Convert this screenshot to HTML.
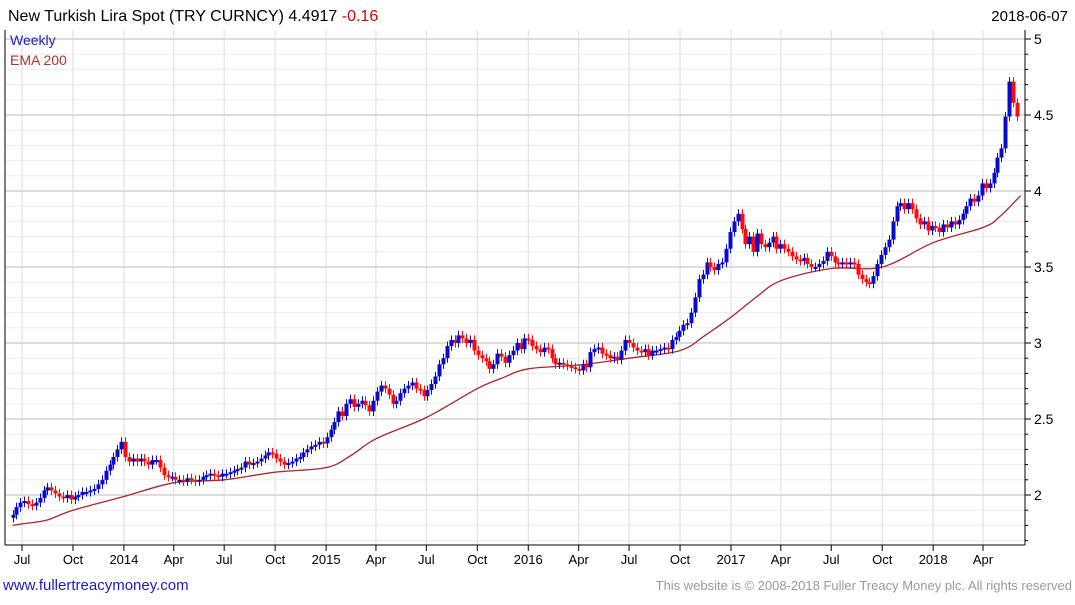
<!DOCTYPE html>
<html><head><meta charset="utf-8"><style>
body{margin:0;background:#fff;width:1075px;height:600px;overflow:hidden;font-family:"Liberation Sans",sans-serif}
svg text{font-family:"Liberation Sans",sans-serif}
</style></head><body>
<svg id="c" width="1075" height="600" xmlns="http://www.w3.org/2000/svg">
<text x="8" y="21" font-size="16" fill="#000">New Turkish Lira Spot (TRY CURNCY) 4.4917 <tspan fill="#e00000">-0.16</tspan></text>
<text x="1068" y="21" font-size="15" fill="#000" text-anchor="end">2018-06-07</text>
<g id="grid"></g>
<g id="ema"></g>
<g id="candles"></g>
<g id="axes"></g>
<text x="10" y="45" font-size="14" fill="#1a1acc">Weekly</text>
<text x="10" y="65" font-size="14" fill="#b03030">EMA 200</text>
<text x="3" y="590" font-size="15" fill="#1a1acc">www.fullertreacymoney.com</text>
<text x="1072" y="590" font-size="13" fill="#999" text-anchor="end">This website is © 2008-2018 Fuller Treacy Money plc. All rights reserved</text>
</svg>
<script>
const startDate = "2013-06-14";
const closes = [1.87,1.92,
1.95,1.96,1.94,1.93,1.95,1.98,2.03,2.05,2.03,2.01,1.99,1.98,2.00,
1.97,1.99,2.00,2.02,2.02,2.03,2.04,2.07,2.10,2.16,2.20,2.25,2.30,
2.35,2.25,2.22,2.24,2.22,2.24,2.22,2.20,2.23,2.23,2.18,2.13,2.12,
2.12,2.10,2.10,2.09,2.11,2.10,2.09,2.10,2.12,2.13,2.14,2.13,2.12,
2.14,2.14,2.15,2.16,2.17,2.18,2.22,2.20,2.21,2.22,2.24,2.26,2.28,
2.27,2.24,2.22,2.20,2.21,2.22,2.24,2.25,2.28,2.30,2.32,2.33,2.35,
2.34,2.38,2.43,2.48,2.55,2.52,2.60,2.63,2.58,2.60,2.62,2.59,2.55,
2.62,2.68,2.72,2.70,2.66,2.60,2.62,2.67,2.70,2.72,2.74,2.70,2.69,
2.65,2.69,2.73,2.78,2.86,2.90,2.98,3.02,3.00,3.05,3.03,3.00,3.02,
2.95,2.92,2.90,2.88,2.83,2.86,2.93,2.91,2.87,2.92,2.95,3.00,2.96,
3.03,3.02,2.98,2.96,2.94,2.97,2.96,2.90,2.86,2.87,2.86,2.85,2.84,
2.83,2.82,2.86,2.84,2.94,2.96,2.97,2.93,2.92,2.90,2.91,2.89,2.95,
3.02,3.00,2.97,2.95,2.94,2.96,2.92,2.95,2.95,2.96,2.97,2.96,3.02,
3.04,3.08,3.12,3.13,3.20,3.30,3.42,3.45,3.53,3.50,3.48,3.52,3.53,
3.62,3.73,3.80,3.85,3.75,3.65,3.70,3.60,3.72,3.65,3.63,3.66,3.70,
3.62,3.65,3.62,3.60,3.57,3.55,3.54,3.56,3.52,3.50,3.50,3.52,3.54,
3.60,3.57,3.53,3.52,3.53,3.52,3.53,3.52,3.45,3.42,3.40,3.39,3.44,
3.52,3.58,3.63,3.68,3.80,3.90,3.92,3.88,3.92,3.88,3.82,3.78,3.80,
3.74,3.77,3.76,3.73,3.78,3.76,3.80,3.78,3.81,3.85,3.90,3.95,3.93,
3.97,4.05,4.02,4.05,4.12,4.22,4.28,4.49,4.72,4.58,4.49];
const firstOpen = 1.85;
const emaDates = ["2013-06-14","2013-07-01","2013-08-15","2013-10-01","2014-01-01","2014-04-01","2014-07-01","2014-10-01","2015-01-01","2015-02-15","2015-04-01","2015-07-01","2015-10-01","2015-11-15","2016-01-01","2016-04-01","2016-07-01","2016-10-01","2016-11-15","2017-01-01","2017-02-15","2017-04-01","2017-07-01","2017-10-01","2018-01-01","2018-04-01","2018-05-01","2018-06-08"];
const emaValues = [1.80,1.81,1.835,1.90,1.99,2.08,2.10,2.15,2.18,2.26,2.37,2.51,2.70,2.77,2.83,2.855,2.90,2.95,3.05,3.17,3.30,3.41,3.49,3.50,3.66,3.76,3.83,3.97];
const tickLabels = ["Jul","Oct","2014","Apr","Jul","Oct","2015","Apr","Jul","Oct","2016","Apr","Jul","Oct","2017","Apr","Jul","Oct","2018","Apr"];
const tickDates = ["2013-07-01","2013-10-01","2014-01-01","2014-04-01","2014-07-01","2014-10-01","2015-01-01","2015-04-01","2015-07-01","2015-10-01","2016-01-01","2016-04-01","2016-07-01","2016-10-01","2017-01-01","2017-04-01","2017-07-01","2017-10-01","2018-01-01","2018-04-01"];
const yTicks = [2,2.5,3,3.5,4,4.5,5];
const yTickLabels = ["2","2.5","3","3.5","4","4.5","5"];

const NS="http://www.w3.org/2000/svg";
const L=5,R=1025,T=30,B=545;
const d0=Date.parse("2013-07-01");
function xD(s){return 22+(Date.parse(s)-d0)/864e5*0.5539;}
function xI(i){return 22+((Date.parse(startDate)-d0)/864e5+7*i)*0.5539;}
function y(v){return 495-(v-2)*152;}
function mk(tag,attrs,parent){const e=document.createElementNS(NS,tag);for(const k in attrs)e.setAttribute(k,attrs[k]);parent.appendChild(e);return e;}
const grid=document.getElementById('grid'),axes=document.getElementById('axes'),cg=document.getElementById('candles'),eg=document.getElementById('ema');
for(let k=17;k<=50;k++){const v=k/10;const yy=y(v);if(yy<T||yy>B)continue;
 const major=(k%5===0);
 const ln=mk('line',{x1:L,x2:R,y1:yy,y2:yy,stroke:major?'#bbbbbb':'#ececec','stroke-width':1},grid);
 
 
 const tk=mk('line',{x1:R,x2:R+(major?6:3),y1:yy,y2:yy,stroke:'#000'},axes);
 
 
}
tickDates.forEach((d,i)=>{const xx=xD(d);
 const ln=mk('line',{x1:xx,x2:xx,y1:T,y2:B,stroke:'#dddddd'},grid);
 
 
 const tk=mk('line',{x1:xx,x2:xx,y1:B,y2:B+6,stroke:'#000'},axes);
 
 
 const t=mk('text',{x:xx,y:B+19,'font-size':13,'text-anchor':'middle',fill:'#000'},axes);
 t.textContent=tickLabels[i];
 
 
});
yTicks.forEach((v,i)=>{const t=mk('text',{x:R+9,y:y(v)+5,'font-size':14,fill:'#000'},axes);
 t.textContent=yTickLabels[i];
 
 
});
const ax1=mk('line',{x1:R,x2:R,y1:T,y2:B,stroke:'#000'},axes);


const ax2=mk('line',{x1:L,x2:R,y1:B,y2:B,stroke:'#000'},axes);


const ax3=mk('line',{x1:L,x2:L,y1:T,y2:B,stroke:'#000'},axes);


// EMA smooth (Catmull-Rom)
const P=emaDates.map((d,i)=>[xD(d),y(emaValues[i])]);
let dstr='M'+P[0][0].toFixed(1)+','+P[0][1].toFixed(1);
for(let i=0;i<P.length-1;i++){const p0=P[Math.max(0,i-1)],p1=P[i],p2=P[i+1],p3=P[Math.min(P.length-1,i+2)];
 const c1=[p1[0]+(p2[0]-p0[0])/6,p1[1]+(p2[1]-p0[1])/6],c2=[p2[0]-(p3[0]-p1[0])/6,p2[1]-(p3[1]-p1[1])/6];
 dstr+=' C'+c1[0].toFixed(1)+','+c1[1].toFixed(1)+' '+c2[0].toFixed(1)+','+c2[1].toFixed(1)+' '+p2[0].toFixed(1)+','+p2[1].toFixed(1);}
const pl=mk('path',{d:dstr,fill:'none',stroke:'#a82828','stroke-width':1.3},eg);


closes.forEach((c,i)=>{const o=i===0?firstOpen:closes[i-1];const up=c>=o;const col=up?'#0a0acc':'#ff0a0a';
 const xx=Math.round(xI(i))+0.5;const hi=Math.max(o,c)+0.03,lo=Math.min(o,c)-0.03;
 const g=mk('g',{},cg);
 
 
 mk('line',{x1:xx,x2:xx,y1:y(hi),y2:y(lo),stroke:col,'stroke-width':1},g);
 const top=y(Math.max(o,c)),h=Math.max(2,Math.abs(y(o)-y(c)));
 mk('rect',{x:xx-2,y:top,width:4,height:h,fill:col},g);
});
</script>
</body></html>
